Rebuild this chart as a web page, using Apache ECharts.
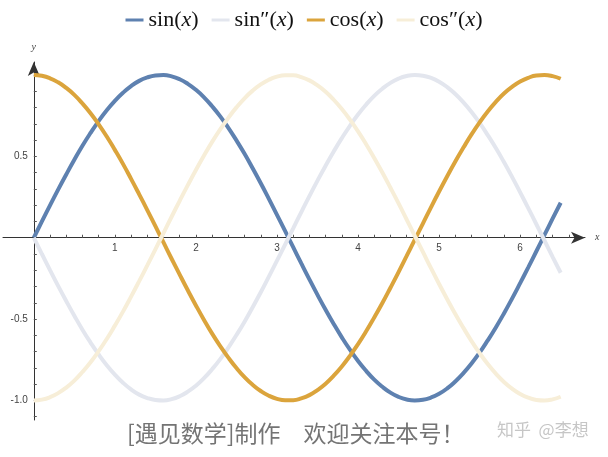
<!DOCTYPE html>
<html><head><meta charset="utf-8">
<script src="https://cdn.jsdelivr.net/npm/echarts@6/dist/echarts.min.js"></script>
<style>html,body{margin:0;padding:0;background:#fff}#c{width:608px;height:457px}</style>
</head><body><div id="c"></div>
<script>
// sample positions (x) and values
const xs = [0,0.1,0.2,0.3,0.4,0.5,0.6,0.7,0.8,0.9,1,1.1,1.2,1.3,1.4,1.5,1.6,1.7,1.8,1.9,2,2.1,2.2,2.3,2.4,2.5,2.6,2.7,2.8,2.9,3,3.1,3.2,3.3,3.4,3.5,3.6,3.7,3.8,3.9,4,4.1,4.2,4.3,4.4,4.5,4.6,4.7,4.8,4.9,5,5.1,5.2,5.3,5.4,5.5,5.6,5.7,5.8,5.9,6,6.1,6.2,6.3,6.4,6.5];
const sinVals = [0,0.100,0.199,0.296,0.389,0.479,0.565,0.644,0.717,0.783,0.841,0.891,0.932,0.964,0.985,0.997,1.000,0.992,0.974,0.946,0.909,0.863,0.808,0.746,0.675,0.598,0.516,0.427,0.335,0.239,0.141,0.042,-0.058,-0.158,-0.256,-0.351,-0.443,-0.530,-0.612,-0.688,-0.757,-0.818,-0.872,-0.916,-0.952,-0.978,-0.994,-1.000,-0.996,-0.982,-0.959,-0.926,-0.883,-0.832,-0.773,-0.706,-0.631,-0.551,-0.465,-0.374,-0.279,-0.182,-0.083,0.017,0.117,0.215];
const sin2Vals = [0,-0.100,-0.199,-0.296,-0.389,-0.479,-0.565,-0.644,-0.717,-0.783,-0.841,-0.891,-0.932,-0.964,-0.985,-0.997,-1.000,-0.992,-0.974,-0.946,-0.909,-0.863,-0.808,-0.746,-0.675,-0.598,-0.516,-0.427,-0.335,-0.239,-0.141,-0.042,0.058,0.158,0.256,0.351,0.443,0.530,0.612,0.688,0.757,0.818,0.872,0.916,0.952,0.978,0.994,1.000,0.996,0.982,0.959,0.926,0.883,0.832,0.773,0.706,0.631,0.551,0.465,0.374,0.279,0.182,0.083,-0.017,-0.117,-0.215];
const cosVals = [1.000,0.995,0.980,0.955,0.921,0.878,0.825,0.765,0.697,0.622,0.540,0.454,0.362,0.267,0.170,0.071,-0.029,-0.129,-0.227,-0.323,-0.416,-0.505,-0.589,-0.666,-0.737,-0.801,-0.857,-0.904,-0.942,-0.971,-0.990,-0.999,-0.998,-0.987,-0.967,-0.936,-0.897,-0.848,-0.791,-0.726,-0.654,-0.575,-0.490,-0.401,-0.307,-0.211,-0.112,-0.012,0.087,0.187,0.284,0.378,0.469,0.554,0.635,0.709,0.776,0.835,0.886,0.927,0.960,0.983,0.997,1.000,0.993,0.977];
const cos2Vals = [-1.000,-0.995,-0.980,-0.955,-0.921,-0.878,-0.825,-0.765,-0.697,-0.622,-0.540,-0.454,-0.362,-0.267,-0.170,-0.071,0.029,0.129,0.227,0.323,0.416,0.505,0.589,0.666,0.737,0.801,0.857,0.904,0.942,0.971,0.990,0.999,0.998,0.987,0.967,0.936,0.897,0.848,0.791,0.726,0.654,0.575,0.490,0.401,0.307,0.211,0.112,0.012,-0.087,-0.187,-0.284,-0.378,-0.469,-0.554,-0.635,-0.709,-0.776,-0.835,-0.886,-0.927,-0.960,-0.983,-0.997,-1.000,-0.993,-0.977];
const seriesNames = ['sin(x)','sin″(x)','cos(x)','cos″(x)'];
const xTickLabels = [1,2,3,4,5,6];
const xTicks = [0.2,0.4,0.6,0.8,1,1.2,1.4,1.6,1.8,2,2.2,2.4,2.6,2.8,3,3.2,3.4,3.6,3.8,4,4.2,4.4,4.6,4.8,5,5.2,5.4,5.6,5.8,6,6.2,6.4,6.6];
const yTickLabels = [0.5,-0.5,-1.0];
const yTicks = [-1.1,-1,-0.9,-0.8,-0.7,-0.6,-0.5,-0.4,-0.3,-0.2,-0.1,0.1,0.2,0.3,0.4,0.5,0.6,0.7,0.8,0.9,1.0];

const colors = ['#5E81B0','#E3E6EE','#DBA43C','#F7EED8'];
const valueSets = [sinVals, sin2Vals, cosVals, cos2Vals];

const W = 608, H = 457;
const G = {left:3, right:23, top:62, bottom:37};
const xMin = -0.38, xMax = 6.8, yMin = -1.12, yMax = 1.08;
const gw = W - G.left - G.right, gh = H - G.top - G.bottom;
// offsets so the axes sit on the zero lines
const xAxisOffset = -gh * (0 - yMin) / (yMax - yMin);
const yAxisOffset = -gw * (0 - xMin) / (xMax - xMin);

const chart = echarts.init(document.getElementById('c'));
const serif = 'Liberation Serif, DejaVu Serif, serif';
const serifRich = {
  a:{fontFamily:serif,fontSize:22,color:'#111'},
  i:{fontFamily:serif,fontStyle:'italic',fontSize:22,color:'#111'}
};
chart.setOption({
  animation:false,
  color:colors,
  legend:{
    top:4, left:'center', itemWidth:18, itemHeight:3, itemGap:13, icon:'rect',
    data:seriesNames,
    formatter:function(n){ const p=n.split('x'); return '{a|'+p[0]+'}{i|x}{a|'+p[1]+'}'; },
    textStyle:{rich:serifRich}
  },
  grid:{left:G.left,right:G.right,top:G.top,bottom:G.bottom,outerBoundsMode:'none',containLabel:false},
  xAxis:{
    type:'value', min:xMin, max:xMax, position:'bottom', offset:xAxisOffset,
    name:'x', nameLocation:'end', nameGap:10,
    nameTextStyle:{fontFamily:serif,fontStyle:'italic',fontSize:10,color:'#444',verticalAlign:'middle'},
    splitLine:{show:false},
    axisLine:{onZero:false,lineStyle:{color:'#333',width:1},symbol:['none','arrow'],symbolSize:[9,14]},
    axisTick:{show:true,inside:true,length:3,lineStyle:{color:'#555'},customValues:xTicks},
    axisLabel:{customValues:xTickLabels,fontSize:10,color:'#444',fontFamily:'Liberation Sans, Arial, sans-serif',margin:6}
  },
  yAxis:{
    type:'value', min:yMin, max:yMax, position:'left', offset:yAxisOffset,
    name:'y', nameLocation:'end', nameGap:10,
    nameTextStyle:{fontFamily:serif,fontStyle:'italic',fontSize:10,color:'#444',align:'center'},
    splitLine:{show:false},
    axisLine:{onZero:false,lineStyle:{color:'#333',width:1},symbol:['none','arrow'],symbolSize:[9,14]},
    axisTick:{show:true,inside:true,length:3,lineStyle:{color:'#555'},customValues:yTicks},
    axisLabel:{customValues:yTickLabels,fontSize:10,color:'#444',fontFamily:'Liberation Sans, Arial, sans-serif',margin:6,
      formatter:function(v){return v.toFixed(1);}}
  },
  series:seriesNames.map(function(n,k){
    return {name:n,type:'line',showSymbol:false,smooth:true,
      lineStyle:{width:4,color:colors[k]},itemStyle:{color:colors[k]},
      data:xs.map(function(x,i){return [x,valueSets[k][i]];})};
  }),
  graphic:[
    {type:'text',left:127,top:422,style:{text:'[遇见数学]制作　欢迎关注本号！',fontFamily:'Noto Sans CJK SC',fontSize:23,fill:'#747474'}},
    {type:'text',left:497,top:421,style:{text:'知乎  @李想',fontFamily:'Noto Sans CJK SC',fontSize:17,fill:'#c6c6c6'}}
  ]
});
</script></body></html>
